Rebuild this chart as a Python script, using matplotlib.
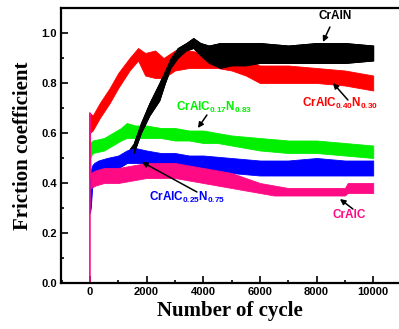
import matplotlib
matplotlib.use("Agg")
import matplotlib.pyplot as plt
from matplotlib.ticker import MultipleLocator

plt.rcParams['font.family'] = ['Liberation Sans', 'DejaVu Sans']
plt.rcParams['mathtext.default'] = 'regular'

# ---- data (lower / upper edge of each noisy trace) ----
red_x = [0, 100, 350, 700, 1000, 1400, 1700, 1950, 2300, 2600, 3000, 3500, 4000,
         4500, 5000, 5500, 6000, 6500, 7000, 8000, 9000, 9500, 10000]
red_lo = [0.60, 0.61, 0.66, 0.72, 0.78, 0.85, 0.89, 0.83, 0.82, 0.82, 0.85, 0.86, 0.86,
          0.86, 0.85, 0.83, 0.80, 0.80, 0.80, 0.80, 0.79, 0.78, 0.77]
red_hi = [0.68, 0.67, 0.72, 0.78, 0.84, 0.90, 0.94, 0.92, 0.93, 0.90, 0.93, 0.93, 0.92,
          0.92, 0.91, 0.89, 0.87, 0.87, 0.87, 0.86, 0.85, 0.84, 0.83]

black_x = [0, 300, 700, 1000, 1300, 1550, 1800, 2100, 2450, 2650, 2850, 3100, 3400,
           3650, 3900, 4200, 4600, 5000, 5500, 6000, 7000, 8000, 9000, 10000]
black_lo = [0.40, 0.42, 0.44, 0.46, 0.48, 0.52, 0.60, 0.67, 0.73, 0.80, 0.86, 0.90, 0.93,
            0.94, 0.91, 0.88, 0.86, 0.87, 0.87, 0.88, 0.88, 0.88, 0.88, 0.89]
black_hi = [0.42, 0.45, 0.47, 0.49, 0.52, 0.56, 0.64, 0.72, 0.80, 0.85, 0.90, 0.94, 0.96,
            0.98, 0.96, 0.95, 0.96, 0.96, 0.96, 0.96, 0.95, 0.96, 0.96, 0.95]

green_x = [0, 100, 500, 800, 1100, 1300, 1600, 2000, 2500, 3000, 3500, 4000, 4500,
           5000, 6000, 7000, 8000, 9000, 10000]
green_lo = [0.50, 0.52, 0.53, 0.55, 0.57, 0.58, 0.58, 0.58, 0.58, 0.57, 0.57, 0.56, 0.56,
            0.55, 0.53, 0.52, 0.52, 0.51, 0.50]
green_hi = [0.56, 0.57, 0.58, 0.60, 0.62, 0.64, 0.63, 0.63, 0.62, 0.62, 0.61, 0.61, 0.60,
            0.59, 0.58, 0.57, 0.57, 0.56, 0.55]

blue_x = [0, 30, 80, 150, 300, 600, 1000, 1300, 1600, 2000, 2500, 3000, 3500, 4000,
          5000, 6000, 7000, 8000, 9000, 10000]
blue_lo = [0.28, 0.30, 0.38, 0.42, 0.44, 0.45, 0.46, 0.48, 0.48, 0.48, 0.47, 0.47, 0.46,
           0.45, 0.44, 0.43, 0.43, 0.43, 0.43, 0.43]
blue_hi = [0.40, 0.45, 0.47, 0.48, 0.49, 0.50, 0.51, 0.53, 0.54, 0.53, 0.52, 0.52, 0.51,
           0.51, 0.50, 0.49, 0.49, 0.50, 0.49, 0.49]

pink_start_x = [0, 0, 30]
pink_start_y = [0.0, 0.68, 0.42]
pink_x = [30, 200, 500, 1000, 1500, 2000, 2500, 3000, 3500, 4000, 4500, 5000, 5500,
          6000, 6500, 7000, 8000, 9000, 9100, 9500, 10000]
pink_lo = [0.38, 0.39, 0.40, 0.40, 0.41, 0.42, 0.42, 0.42, 0.41, 0.40, 0.39, 0.38, 0.37,
           0.36, 0.35, 0.35, 0.35, 0.35, 0.36, 0.36, 0.36]
pink_hi = [0.44, 0.45, 0.46, 0.46, 0.47, 0.48, 0.48, 0.48, 0.47, 0.46, 0.45, 0.44, 0.42,
           0.40, 0.39, 0.38, 0.38, 0.38, 0.40, 0.40, 0.40]

RED = '#ff0000'
GREEN = '#00f000'
BLUE = '#0000ff'
PINK = '#ff0a85'

fig = plt.figure(figsize=(3.99, 3.29), dpi=100)
ax = fig.add_axes([0.1529, 0.1398, 0.8471, 0.8359])

# black runs under blue/pink at the start, but over red/green later on
k = black_x.index(1550)
ax.fill_between(green_x, green_lo, green_hi, color=GREEN, lw=0.6)
ax.fill_between(black_x, black_lo, black_hi, color='black', lw=0.6)
ax.fill_between(blue_x, blue_lo, blue_hi, color=BLUE, lw=0.6)
ax.plot(pink_start_x, pink_start_y, color=PINK, lw=1.2)
ax.fill_between(pink_x, pink_lo, pink_hi, color=PINK, lw=0.6)
ax.fill_between(red_x, red_lo, red_hi, color=RED, lw=0.6)
ax.fill_between(black_x[k:], black_lo[k:], black_hi[k:], color='black', lw=0.6)

ax.set_xlim(-1020, 10910)
ax.set_ylim(0, 1.1)
ax.xaxis.set_major_locator(MultipleLocator(2000))
ax.xaxis.set_minor_locator(MultipleLocator(1000))
ax.yaxis.set_minor_locator(MultipleLocator(0.1))
ax.set_yticks([0.0, 0.2, 0.4, 0.6, 0.8, 1.0])
ax.set_yticklabels(['0.0', '0.2', '0.4', '0.6', '0.8', '1.0'])
ax.tick_params(which='major', direction='in', length=5, width=1.2,
               labelsize=8, pad=3)
ax.tick_params(which='minor', direction='in', length=2.5, width=1.2)
for lab in ax.get_xticklabels() + ax.get_yticklabels():
    lab.set_fontweight('bold')
for side in ('left', 'bottom', 'top'):
    ax.spines[side].set_linewidth(1.6)
ax.spines['right'].set_visible(False)

ax.set_xlabel('Number of cycle', family='Liberation Serif', fontweight='bold',
              fontsize=15, labelpad=3)
ax.set_ylabel('Friction coefficient', family='Liberation Serif', fontweight='bold',
              fontsize=15, labelpad=6)

arrow = dict(arrowstyle='-|>', color='black', lw=1.1, mutation_scale=8,
             shrinkA=0, shrinkB=0)
ax.text(8648, 1.068, 'CrAlN', ha='center', va='center', fontsize=8.5,
        fontweight='bold')
ax.annotate('', xy=(8225, 0.964), xytext=(8472, 1.024), arrowprops=arrow)

ax.text(8825, 0.718, 'CrAlC$_{0.40}$N$_{0.30}$', ha='center', va='center',
        fontsize=8.5, fontweight='bold', color=RED)
ax.annotate('', xy=(8578, 0.80), xytext=(9107, 0.732), arrowprops=arrow)

ax.text(4377, 0.702, 'CrAlC$_{0.17}$N$_{0.83}$', ha='center', va='center',
        fontsize=8.5, fontweight='bold', color=GREEN)
ax.annotate('', xy=(3812, 0.62), xytext=(4130, 0.672), arrowprops=arrow)

ax.text(3424, 0.342, 'CrAlC$_{0.25}$N$_{0.75}$', ha='center', va='center',
        fontsize=8.5, fontweight='bold', color=BLUE)
ax.annotate('', xy=(1835, 0.484), xytext=(3777, 0.364), arrowprops=arrow)

ax.text(9142, 0.272, 'CrAlC', ha='center', va='center', fontsize=8.5,
        fontweight='bold', color=PINK)
ax.annotate('', xy=(8825, 0.336), xytext=(9283, 0.296), arrowprops=arrow)

fig.savefig('out.png', dpi=100)
